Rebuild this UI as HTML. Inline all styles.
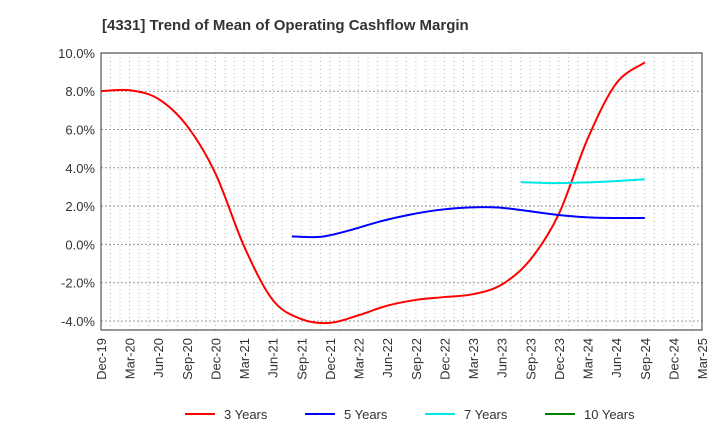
<!DOCTYPE html>
<html><head><meta charset="utf-8"><style>
body{margin:0;background:#fff;font-family:"Liberation Sans",sans-serif}
</style></head><body>
<svg id="c" width="720" height="440" xmlns="http://www.w3.org/2000/svg" font-family="Liberation Sans, sans-serif">
<text x="102" y="30" font-size="15" font-weight="bold" fill="#333">[4331]  Trend of Mean of Operating Cashflow Margin</text>
<g id="grid"></g><g id="series"></g><g id="axes"></g><g id="legend"></g>
</svg>
<script>
const xLabels=["Dec-19","Mar-20","Jun-20","Sep-20","Dec-20","Mar-21","Jun-21","Sep-21","Dec-21","Mar-22","Jun-22","Sep-22","Dec-22","Mar-23","Jun-23","Sep-23","Dec-23","Mar-24","Jun-24","Sep-24","Dec-24","Mar-25"];
const yTicks=[10,8,6,4,2,0,-2,-4];
const s3=[8.0,8.05,7.6,6.2,3.7,-0.1,-2.9,-3.9,-4.1,-3.7,-3.2,-2.9,-2.75,-2.6,-2.1,-0.8,1.6,5.5,8.4,9.5];
const s3Start=0;
const s5=[0.42,0.4,0.75,1.2,1.55,1.8,1.93,1.93,1.75,1.55,1.42,1.38,1.38];
const s5Start=6.67;
const s7=[3.25,3.2,3.23,3.3,3.4];
const s7Start=14.67;
const series=[{name:"3 Years",color:"#ff0000",data:s3,start:s3Start},{name:"5 Years",color:"#0000ff",data:s5,start:s5Start},{name:"7 Years",color:"#00e5e5",data:s7,start:s7Start},{name:"10 Years",color:"#008000",data:[],start:0}];
const L=101,R=702,T=53,B=330;
const qw=(R-L)/21;
const X=i=>L+i*qw;
const Y=v=>244.4-v*(38.3/2);
const NS="http://www.w3.org/2000/svg";
function mk(tag,attrs,parent){const e=document.createElementNS(NS,tag);for(const k in attrs)e.setAttribute(k,attrs[k]);parent.appendChild(e);return e;}
const grid=document.getElementById('grid'),axes=document.getElementById('axes'),ser=document.getElementById('series'),leg=document.getElementById('legend');
for(let m=1;m<63;m++){const x=L+m*qw/3;const g=mk('line',{x1:x,x2:x,y1:T,y2:B,stroke:'#bbb','stroke-dasharray':'1,3','stroke-width':1},grid);

}
yTicks.forEach(v=>{const y=Y(v);const g=mk('line',{x1:L,x2:R,y1:y,y2:y,stroke:'#999','stroke-dasharray':'2,2','stroke-width':1},grid);


const t=mk('text',{x:L-6,y:y+5,'text-anchor':'end','font-size':13,fill:'#333'},axes);t.textContent=v.toFixed(1)+'%';

});
const fr=mk('rect',{x:L,y:T,width:R-L,height:B-T,fill:'none',stroke:'#333','stroke-width':1},axes);


xLabels.forEach((lab,i)=>{const x=X(i);const t=mk('text',{transform:`translate(${x+5},${B+8}) rotate(-90)`,'text-anchor':'end','font-size':13,fill:'#333'},axes);t.textContent=lab;

});
function path(pts){if(pts.length<2)return '';let d=`M${pts[0][0]},${pts[0][1]}`;for(let i=0;i<pts.length-1;i++){const p0=pts[i-1]||pts[i],p1=pts[i],p2=pts[i+1],p3=pts[i+2]||p2;
const c1=[p1[0]+(p2[0]-p0[0])/6,p1[1]+(p2[1]-p0[1])/6],c2=[p2[0]-(p3[0]-p1[0])/6,p2[1]-(p3[1]-p1[1])/6];d+=` C${c1[0]},${c1[1]} ${c2[0]},${c2[1]} ${p2[0]},${p2[1]}`;}return d;}
series.forEach((s,k)=>{if(s.data.length){const n=s.data.length;const span=19-s.start;const pts=s.data.map((v,i)=>[X(s.start+i*span/(n-1)),Y(v)]);const p=mk('path',{d:path(pts),fill:'none',stroke:s.color,'stroke-width':2},ser);

}
const lx=185+k*120;const g=mk('g',{},leg);


mk('line',{x1:lx,x2:lx+30,y1:414,y2:414,stroke:s.color,'stroke-width':2},g);
const t=mk('text',{x:lx+39,y:419,'font-size':13,fill:'#333'},g);t.textContent=s.name;});
</script>
</body></html>
